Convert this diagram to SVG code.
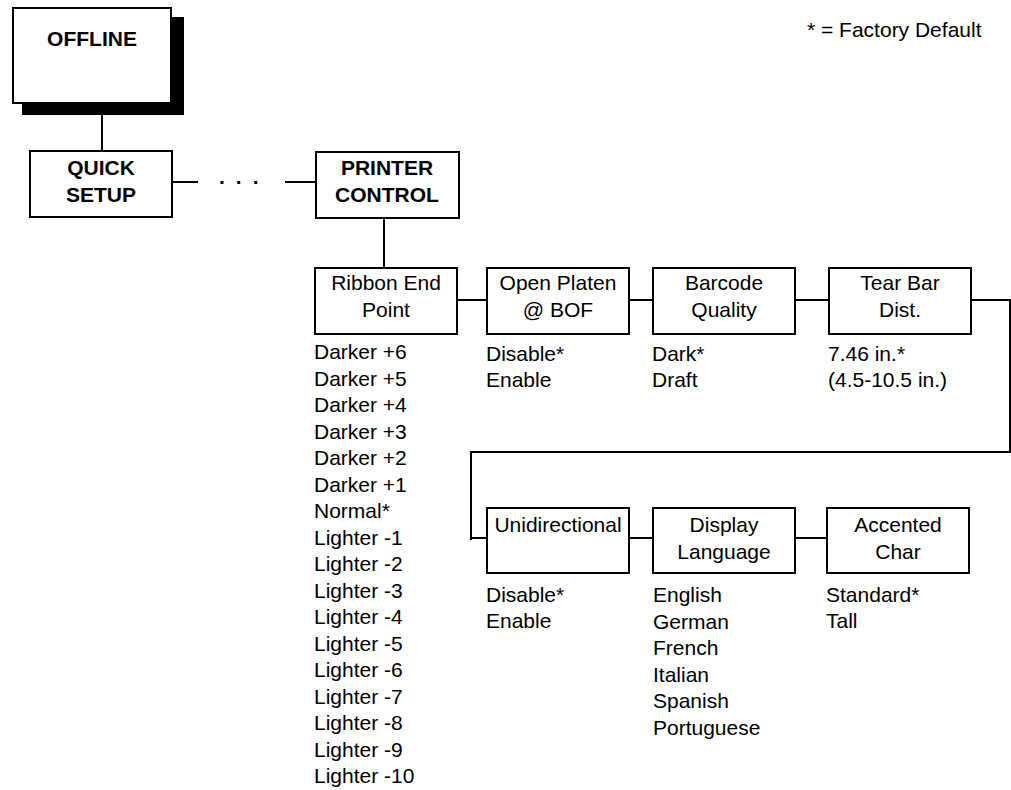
<svg xmlns="http://www.w3.org/2000/svg" width="1011" height="790" viewBox="0 0 1011 790">
<style>
.box{fill:#fff;stroke:#000;stroke-width:2}
.b{font-family:"Liberation Sans",Arial,sans-serif;font-size:21px;font-weight:bold;fill:#000;text-anchor:middle}
.t{font-family:"Liberation Sans",Arial,sans-serif;font-size:21px;fill:#000;text-anchor:middle}
.l{font-family:"Liberation Sans",Arial,sans-serif;font-size:21px;fill:#000}
.c{fill:none;stroke:#000;stroke-width:2}
</style>
<rect width="1011" height="790" fill="#fff"/>
<g id="connectors">
<path class="c" d="M102 115V151"/>
<path class="c" d="M172 182H198"/>
<path class="c" d="M285 182H316"/>
<path class="c" d="M384 218V268"/>
<path class="c" d="M457 300H487"/>
<path class="c" d="M629 300H653"/>
<path class="c" d="M795 300H829"/>
<path class="c" d="M971 300H1010V452H471V540"/>
<path class="c" d="M470 538H487"/>
<path class="c" d="M629 538H653"/>
<path class="c" d="M795 538H827"/>
<text class="b" x="240" y="184" style="letter-spacing:2.6px">. . .</text>
</g>
<g id="offline">
<rect x="22" y="17" width="162" height="98" fill="#000"/>
<rect class="box" x="13" y="8" width="158" height="95"/>
<text class="b" x="92" y="46">OFFLINE</text>
</g>
<g id="quick-setup">
<rect class="box" x="30" y="151" width="142" height="66"/>
<text class="b" x="101" y="175">QUICK</text>
<text class="b" x="101" y="202">SETUP</text>
</g>
<g id="printer-control">
<rect class="box" x="316" y="152" width="143" height="66"/>
<text class="b" x="387" y="175">PRINTER</text>
<text class="b" x="387" y="202">CONTROL</text>
</g>
<g id="ribbon-end-point">
<rect class="box" x="315" y="268" width="142" height="66"/>
<text class="t" x="386" y="290">Ribbon End</text>
<text class="t" x="386" y="317">Point</text>
<text class="l" x="314" y="359">Darker +6</text>
<text class="l" x="314" y="385.5">Darker +5</text>
<text class="l" x="314" y="412">Darker +4</text>
<text class="l" x="314" y="438.5">Darker +3</text>
<text class="l" x="314" y="465">Darker +2</text>
<text class="l" x="314" y="491.5">Darker +1</text>
<text class="l" x="314" y="518">Normal*</text>
<text class="l" x="314" y="544.5">Lighter -1</text>
<text class="l" x="314" y="571">Lighter -2</text>
<text class="l" x="314" y="597.5">Lighter -3</text>
<text class="l" x="314" y="624">Lighter -4</text>
<text class="l" x="314" y="650.5">Lighter -5</text>
<text class="l" x="314" y="677">Lighter -6</text>
<text class="l" x="314" y="703.5">Lighter -7</text>
<text class="l" x="314" y="730">Lighter -8</text>
<text class="l" x="314" y="756.5">Lighter -9</text>
<text class="l" x="314" y="783">Lighter -10</text>
</g>
<g id="open-platen">
<rect class="box" x="487" y="268" width="142" height="66"/>
<text class="t" x="558" y="290">Open Platen</text>
<text class="t" x="558" y="317">@ BOF</text>
<text class="l" x="486" y="361">Disable*</text>
<text class="l" x="486" y="387">Enable</text>
</g>
<g id="barcode-quality">
<rect class="box" x="653" y="268" width="142" height="66"/>
<text class="t" x="724" y="290">Barcode</text>
<text class="t" x="724" y="317">Quality</text>
<text class="l" x="652" y="361">Dark*</text>
<text class="l" x="652" y="387">Draft</text>
</g>
<g id="tear-bar-dist">
<rect class="box" x="829" y="268" width="142" height="66"/>
<text class="t" x="900" y="290">Tear Bar</text>
<text class="t" x="900" y="317">Dist.</text>
<text class="l" x="828" y="361">7.46 in.*</text>
<text class="l" x="828" y="387">(4.5-10.5 in.)</text>
</g>
<g id="unidirectional">
<rect class="box" x="487" y="508" width="142" height="65"/>
<text class="t" x="558" y="532">Unidirectional</text>
<text class="l" x="486" y="602">Disable*</text>
<text class="l" x="486" y="628">Enable</text>
</g>
<g id="display-language">
<rect class="box" x="653" y="508" width="142" height="65"/>
<text class="t" x="724" y="532">Display</text>
<text class="t" x="724" y="559">Language</text>
<text class="l" x="653" y="602">English</text>
<text class="l" x="653" y="628.5">German</text>
<text class="l" x="653" y="655">French</text>
<text class="l" x="653" y="681.5">Italian</text>
<text class="l" x="653" y="708">Spanish</text>
<text class="l" x="653" y="734.5">Portuguese</text>
</g>
<g id="accented-char">
<rect class="box" x="827" y="508" width="142" height="65"/>
<text class="t" x="898" y="532">Accented</text>
<text class="t" x="898" y="559">Char</text>
<text class="l" x="826" y="602">Standard*</text>
<text class="l" x="826" y="628">Tall</text>
</g>
<g id="legend">
<text class="l" x="807" y="37">* = Factory Default</text>
</g>
</svg>
